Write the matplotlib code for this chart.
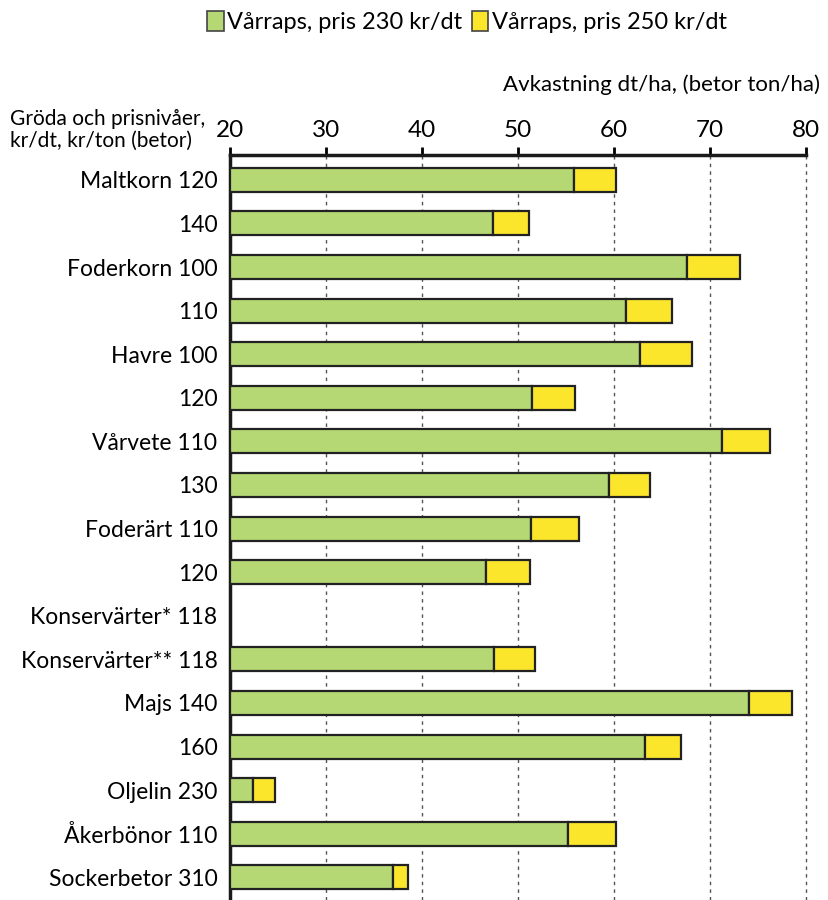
import matplotlib.pyplot as plt
from matplotlib.patches import Patch

plt.rcParams["font.family"] = ["Lato", "DejaVu Sans"]

labels = ["Maltkorn 120", "140", "Foderkorn 100", "110", "Havre 100", "120",
          "Vårvete 110", "130", "Foderärt 110", "120", "Konservärter* 118",
          "Konservärter** 118", "Majs 140", "160", "Oljelin 230",
          "Åkerbönor 110", "Sockerbetor 310"]
# yield needed at 230 kr/dt and at 250 kr/dt (None = no value)
pris_230 = [55.8, 47.4, 67.6, 61.2, 62.7, 51.5, 71.3, 59.5, 51.4, 46.7, None,
            47.5, 74.1, 63.2, 22.4, 55.2, 37.0]
pris_250 = [60.2, 51.1, 73.1, 66.0, 68.1, 55.9, 76.3, 63.7, 56.4, 51.2, None,
            51.8, 78.5, 67.0, 24.7, 60.2, 38.5]

green = "#b5d774"
yellow = "#fbe62b"
edge = "#222222"

fig = plt.figure(figsize=(8.29, 9.0), dpi=100)
ax = fig.add_axes([230 / 829, 0.0, 576 / 829, 745 / 900])

xmin = 20
for i, (a, b) in enumerate(zip(pris_230, pris_250)):
    if a is None:
        continue
    ax.barh(i, a - xmin, left=xmin, height=0.55, color=green,
            edgecolor=edge, linewidth=1.6, zorder=3)
    ax.barh(i, b - a, left=a, height=0.55, color=yellow,
            edgecolor=edge, linewidth=1.6, zorder=3)

ax.set_xlim(20, 80)
ax.set_ylim(16.52, -0.57)
ax.set_yticks(range(len(labels)))
ax.set_yticklabels(labels, fontsize=16.5)
ax.tick_params(axis="y", length=0, pad=9)

ax.xaxis.tick_top()
ax.set_xticks(range(20, 81, 10))
ax.tick_params(axis="x", direction="out", length=6, width=2, labelsize=17.5,
               pad=4, colors="black")
for x in range(30, 81, 10):
    ax.axvline(x, color="#555555", linestyle=(0, (2.5, 3)), linewidth=1,
               zorder=1, clip_on=False)

for s in ["right", "bottom"]:
    ax.spines[s].set_visible(False)
for s in ["top", "left"]:
    ax.spines[s].set_linewidth(2.5)
    ax.spines[s].set_color("#1a1a1a")

fig.text(820 / 829, 1 - 85 / 900, "Avkastning dt/ha, (betor ton/ha)",
         ha="right", va="center", fontsize=16)
fig.text(10 / 829, 1 - 130 / 900, "Gröda och prisnivåer,\nkr/dt, kr/ton (betor)",
         ha="left", va="center", fontsize=15, linespacing=1.1)

handles = [Patch(facecolor=green, edgecolor="#444444", linewidth=1.2),
           Patch(facecolor=yellow, edgecolor="#444444", linewidth=1.2)]
fig.legend(handles, ["Vårraps, pris 230 kr/dt", "Vårraps, pris 250 kr/dt"],
           loc="center", bbox_to_anchor=(467 / 829, 1 - 22 / 900), ncol=2,
           frameon=False, fontsize=17, handlelength=0.7, handleheight=0.9,
           handletextpad=0.15, columnspacing=0.4)

fig.savefig("out.png", dpi=100)
